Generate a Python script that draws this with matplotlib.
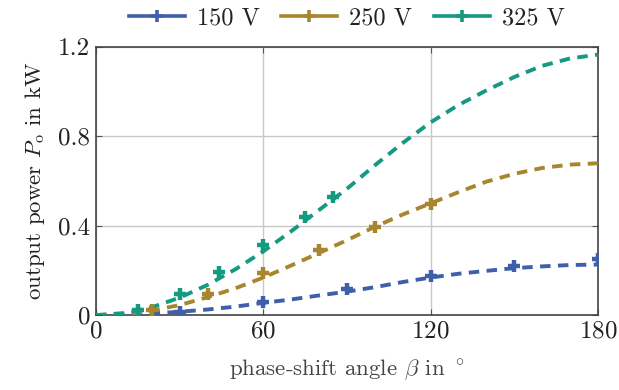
import matplotlib
matplotlib.use("Agg")
import matplotlib.pyplot as plt
from matplotlib.lines import Line2D

plt.rcParams['font.family'] = 'serif'
plt.rcParams['font.serif'] = ['cmr10', 'DejaVu Serif']
plt.rcParams['mathtext.fontset'] = 'cm'
plt.rcParams['axes.formatter.use_mathtext'] = True

# measured points
beta_150 = [30, 60, 90, 120, 150, 180]
p_150 = [0.015, 0.06, 0.115, 0.175, 0.22, 0.25]
beta_250 = [20, 40, 60, 80, 100, 120]
p_250 = [0.025, 0.095, 0.19, 0.29, 0.395, 0.495]
beta_325 = [15, 30, 44, 60, 75, 85]
p_325 = [0.025, 0.095, 0.195, 0.315, 0.44, 0.53]

# model curves
beta_fit = [0, 10, 20, 30, 40, 50, 60, 70, 80, 90, 100, 110, 120, 130, 140, 150, 160, 170, 180]
fit_150 = [0, 0.002, 0.007, 0.015, 0.025, 0.038, 0.055, 0.07, 0.088, 0.105, 0.125, 0.148,
           0.168, 0.185, 0.198, 0.21, 0.218, 0.224, 0.226]
fit_250 = [0, 0.005, 0.02, 0.045, 0.08, 0.12, 0.168, 0.222, 0.278, 0.335, 0.395, 0.45,
           0.5, 0.55, 0.597, 0.632, 0.658, 0.673, 0.679]
fit_325 = [0, 0.009, 0.035, 0.078, 0.135, 0.205, 0.285, 0.375, 0.47, 0.565, 0.67, 0.77,
           0.862, 0.94, 1.005, 1.065, 1.115, 1.148, 1.165]

labels = ['150 V', '250 V', '325 V']
colors = ['#3f5faa', '#a8862f', '#159a80']

fig = plt.figure(figsize=(6.19, 3.90), dpi=100)
ax = fig.add_axes([0.155, 0.192, 0.811, 0.688])

meas = [(beta_150, p_150), (beta_250, p_250), (beta_325, p_325)]
fits = [fit_150, fit_250, fit_325]
for (bx, py), fy, c in zip(meas, fits, colors):
    ax.plot(beta_fit, fy, color=c, lw=2.8, dashes=(2.7, 1.9), zorder=3)
    ax.plot(bx, py, ls='none', marker='+', ms=9, mew=3.2, color=c, zorder=4)

ax.set_xlim(0, 180)
ax.set_ylim(0, 1.2)
ax.set_xticks([0, 60, 120, 180])
ax.set_yticks([0, 0.4, 0.8, 1.2])
ax.set_yticklabels(['0', '0.4', '0.8', '1.2'])
ax.grid(True, color='#c8c8c8', lw=1)
ax.set_axisbelow(True)
ax.tick_params(direction='in', length=4, color='#555555', labelsize=18,
               labelcolor='#222222', top=True, right=True, pad=4)
for s in ax.spines.values():
    s.set_color('#444444')
    s.set_linewidth(1.2)

ax.set_xlabel(r'phase-shift angle $\beta$ in $^\circ$', fontsize=16.5, color='#444444',
              labelpad=10)
ax.set_ylabel(r'output power $P_{\mathrm{o}}$ in kW', fontsize=16.5, color='#222222',
              labelpad=8)

handles = [Line2D([], [], color=c, lw=2.6, marker='+', ms=8, mew=2.6) for c in colors]
ax.legend(handles, labels, loc='lower center', bbox_to_anchor=(0.5, 1.01), ncol=3,
          frameon=False, fontsize=17.5, handlelength=2.3, columnspacing=0.9,
          handletextpad=0.5, borderaxespad=0.2, labelcolor='#222222')

fig.savefig('out.png', dpi=100)
